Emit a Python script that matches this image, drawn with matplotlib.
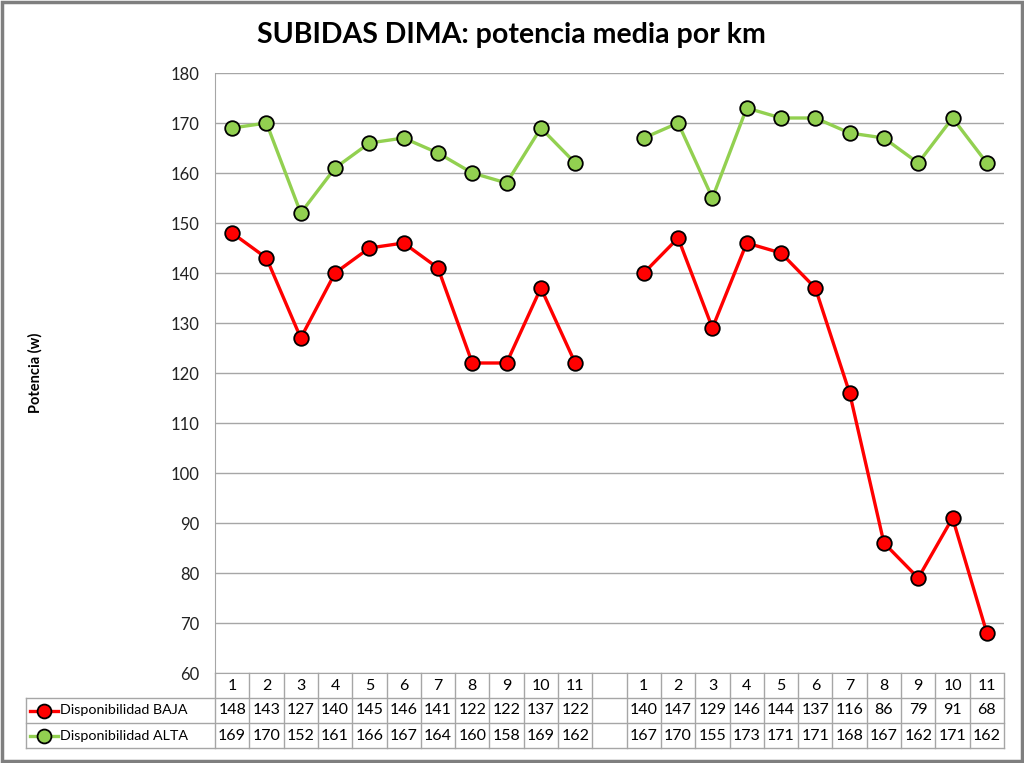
import matplotlib
matplotlib.use("Agg")
import matplotlib.pyplot as plt
import numpy as np
from matplotlib.patches import Rectangle
from matplotlib.lines import Line2D

plt.rcParams['font.family'] = ['Lato', 'DejaVu Sans']

title = "SUBIDAS DIMA: potencia media por km"
ylabel = "Potencia (w)"
categories = ['1', '2', '3', '4', '5', '6', '7', '8', '9', '10', '11', '',
              '1', '2', '3', '4', '5', '6', '7', '8', '9', '10', '11']
baja = [148, 143, 127, 140, 145, 146, 141, 122, 122, 137, 122, None,
        140, 147, 129, 146, 144, 137, 116, 86, 79, 91, 68]
alta = [169, 170, 152, 161, 166, 167, 164, 160, 158, 169, 162, None,
        167, 170, 155, 173, 171, 171, 168, 167, 162, 171, 162]
series_names = ["Disponibilidad BAJA", "Disponibilidad ALTA"]
colors = ["#FF0000", "#92D050"]
yticks = list(range(60, 181, 10))

W, H = 1024, 763
fig = plt.figure(figsize=(W / 100, H / 100), dpi=100)
L, R, T, B = 215, 1004, 73, 673
ax = fig.add_axes([L / W, 1 - B / H, (R - L) / W, (B - T) / H])

n = len(categories)
x = np.arange(n)
grid_c = "#A6A6A6"
for vals, c in zip([baja, alta], colors):
    y = np.array([np.nan if v is None else v for v in vals], dtype=float)
    ax.plot(x, y, color=c, lw=2.4, marker='o', ms=10.5, mfc=c, mec='black',
            mew=1.3, zorder=3, clip_on=False)

ax.set_xlim(-0.5, n - 0.5)
ax.set_ylim(60, 180)
ax.set_yticks(yticks)
ax.set_xticks([])
ax.yaxis.grid(True, color=grid_c, lw=1)
ax.set_axisbelow(True)
for s in ['top', 'right']:
    ax.spines[s].set_visible(False)
for s in ['left', 'bottom']:
    ax.spines[s].set_color(grid_c)
ax.tick_params(axis='y', length=0, pad=11, labelsize=12, labelcolor='#222222')

# title and ylabel
fig.text(511 / W, 1 - 35 / H, title, ha='center', va='center', fontsize=20.5,
         fontweight='bold')
fig.text(35 / W, 1 - 373 / H, ylabel, ha='center', va='center', rotation=90,
         fontsize=10.5, fontweight='bold')

# data table (axes coordinates)
rh = 25 / (B - T)
cw = 1.0 / n
leg_left = (26 - L) / (R - L)
kw = dict(transform=ax.transAxes, clip_on=False, color=grid_c, lw=1)
for k in [1, 2, 3]:
    ax.add_line(Line2D([leg_left, 1], [-k * rh, -k * rh], **kw))
ax.add_line(Line2D([leg_left, leg_left], [-rh, -3 * rh], **kw))
for i in range(n + 1):
    ax.add_line(Line2D([i * cw, i * cw], [0, -3 * rh], **kw))

for i, c in enumerate(categories):
    ax.text((i + 0.5) * cw, -0.5 * rh, c, transform=ax.transAxes, ha='center',
            va='center', fontsize=11.5)
for r, (vals, c, name) in enumerate(zip([baja, alta], colors, series_names)):
    yc = -(r + 1.5) * rh
    for i, v in enumerate(vals):
        if v is not None:
            ax.text((i + 0.5) * cw, yc, str(v), transform=ax.transAxes,
                    ha='center', va='center', fontsize=11.5)
    x0 = (30 - L) / (R - L)
    x1 = (58 - L) / (R - L)
    xm = (44 - L) / (R - L)
    ax.add_line(Line2D([x0, x1], [yc, yc], transform=ax.transAxes,
                       clip_on=False, color=c, lw=2.4))
    ax.add_line(Line2D([xm], [yc], transform=ax.transAxes, clip_on=False,
                       marker='o', ms=10, mfc=c, mec='black', mew=1.3))
    ax.text((60 - L) / (R - L), yc, name, transform=ax.transAxes, ha='left',
            va='center', fontsize=10.3)

# outer frame
fig.patches.append(Rectangle((0.0015, 0.002), 0.997, 0.996, transform=fig.transFigure,
                             fill=False, ec='#7F7F7F', lw=2.5))

fig.savefig("out.png", dpi=100)
